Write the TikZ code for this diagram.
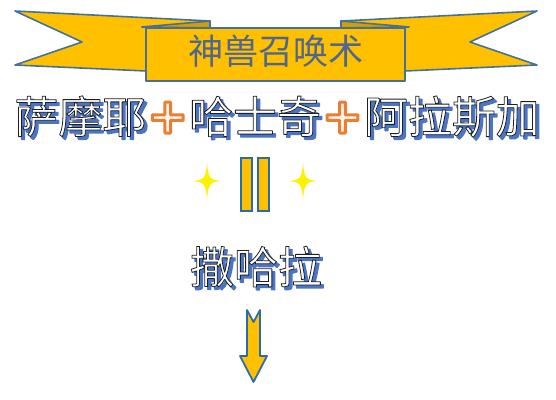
\documentclass[tikz,border=0pt]{standalone}
\usepackage{fontspec}
\usetikzlibrary{positioning}
\newfontfamily\cjk{Noto Sans CJK SC}
\newfontfamily\plusfont{DejaVu Sans}
\definecolor{ribbongold}{HTML}{FFC000}
\definecolor{ribbonedge}{HTML}{41719C}
\definecolor{foldgold}{HTML}{D39E00}
\definecolor{titleblue}{HTML}{4F6790}
\definecolor{shadowblue}{HTML}{4A75C8}
\definecolor{plusorange}{HTML}{ED7D31}
\definecolor{sparkyellow}{HTML}{FFF200}
\definecolor{baredge}{HTML}{2A6CA8}
% letters filled with one colour and stroked with another (rgb, width)
\newcommand{\rimtext}[4]{{\color{#1}\special{pdf:literal direct #2 RG #3 w 1 j 2 Tr}#4\special{pdf:literal direct 0 Tr}}}
% white letters, dark rim, blue drop shadow
\newcommand{\glowtext}[1]{\makebox[0pt][l]{\hspace{1.7pt}\raisebox{-1.7pt}{\rimtext{shadowblue}{0.29 0.46 0.78}{0.7}{#1}}}\rimtext{white}{0.12 0.12 0.12}{0.45}{#1}}
\newcommand{\plussign}{\hspace{0.5pt}{\plusfont\bfseries\fontsize{28}{28}\selectfont\rimtext{plusorange!8}{0.93 0.49 0.19}{1.7}{+}}\hspace{0.5pt}}

\begin{document}
\begin{tikzpicture}[
    x=0.02cm, y=-0.02cm,
    every node/.style={align=center, inner sep=0pt},
    ribbon/.style={fill=ribbongold, draw=ribbonedge, line width=0.9pt, line join=round},
    fold/.style={fill=foldgold, draw=ribbonedge, line width=0.9pt, line join=round},
    bigword/.style={font=\cjk\fontsize{25}{25}\selectfont},
    sparkle/.pic={\fill[sparkyellow] (0,-19) .. controls (1,-3) and (3,-1) .. (14.5,0)
        .. controls (3,1) and (1,3) .. (0,19) .. controls (-1,3) and (-3,1) .. (-14.5,0)
        .. controls (-3,-1) and (-1,-3) .. cycle;}
]
    \useasboundingbox (0,0) rectangle (556,400);

    % banner
    \draw[ribbon] (15,11) -- (210,21) -- (210,71) -- (146,71) -- (15,65) -- (82,42) -- cycle;
    \draw[ribbon] (537,11) -- (341,21) -- (341,71) -- (405,71) -- (537,65) -- (470,42) -- cycle;
    \draw[fold] (142,27) -- (210,21) -- (210,28) -- cycle;
    \draw[fold] (409,27) -- (341,21) -- (341,28) -- cycle;
    \draw[ribbon] (146,28) rectangle (405,81);
    \node[font=\cjk\fontsize{20}{20}\selectfont, text=titleblue] (title) at (276,51) {神兽召唤术};

    \node[bigword] (breeds) at (277,118) {\glowtext{萨摩耶}\plussign\glowtext{哈士奇}\plussign\glowtext{阿拉斯加}};

    % equals, turned upright
    \pic (sparkL) at (207,181) {sparkle};
    \pic (sparkR) at (303,181) {sparkle};
    \draw[fill=ribbongold, draw=baredge, line width=1.2pt] (241,158) rectangle (252,211);
    \draw[fill=ribbongold, draw=baredge, line width=1.2pt] (258,158) rectangle (269,211);

    \node[bigword] (sahara) at (256,268) {\glowtext{撒哈拉}};

    \draw[fill=ribbongold, draw=baredge, line width=1pt, line join=round]
        (247,310) -- (253.5,322) -- (260,310) -- (260,356) -- (267,356) -- (253.5,382)
        -- (240,356) -- (247,356) -- cycle;
\end{tikzpicture}
\end{document}
